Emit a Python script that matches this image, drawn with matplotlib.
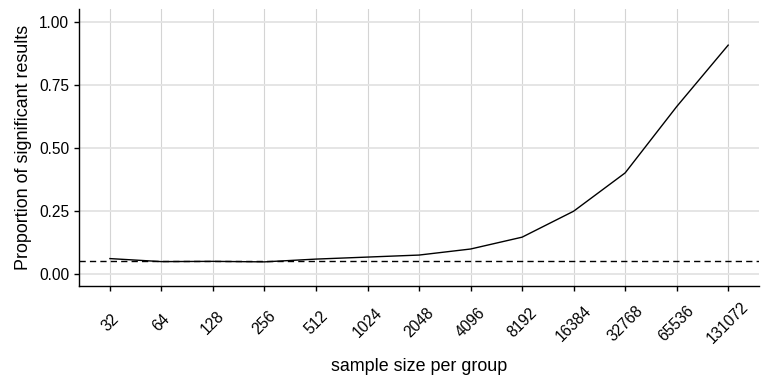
import matplotlib
matplotlib.use("Agg")
import matplotlib.pyplot as plt
import numpy as np

plt.rcParams['font.family'] = ['Liberation Sans', 'DejaVu Sans']

# sample sizes per group and proportion of significant results
sample_sizes = ["32", "64", "128", "256", "512", "1024", "2048", "4096",
                "8192", "16384", "32768", "65536", "131072"]
prop_significant = [0.060, 0.048, 0.049, 0.047, 0.058, 0.066, 0.074, 0.098,
                    0.145, 0.248, 0.400, 0.663, 0.907]
alpha_level = 0.05
y_ticks = [0.00, 0.25, 0.50, 0.75, 1.00]

fig = plt.figure(figsize=(7.68, 3.84), dpi=100)
ax = fig.add_axes([0.1029, 0.2544, 0.8855, 0.7219])

x = np.arange(1, len(sample_sizes) + 1)
ax.plot(x, prop_significant, color='black', lw=1.0, zorder=3)
ax.axhline(alpha_level, color='black', lw=1.0, ls=(0, (4.5, 3)), zorder=3)

ax.set_xlim(0.4, len(sample_sizes) + 0.6)
ax.set_ylim(-0.05, 1.05)
ax.set_xticks(x)
ax.set_xticklabels(sample_sizes, rotation=45, ha='center', va='center')
ax.set_yticks(y_ticks)
ax.set_yticklabels([f"{v:.2f}" for v in y_ticks])

# horizontal grid a bit wider and lighter than the vertical one
ax.grid(True, axis='y', color='#e3e3e3', lw=1.3, zorder=0)
ax.grid(True, axis='x', color='#d4d4d4', lw=0.8, zorder=0)
ax.set_axisbelow(True)
for s in ['top', 'right']:
    ax.spines[s].set_visible(False)
for s in ['left', 'bottom']:
    ax.spines[s].set_linewidth(1.0)
ax.tick_params(axis='both', length=3.5, width=1.0, labelsize=11.2, colors='black')
ax.tick_params(axis='x', pad=23)

ax.set_xlabel("sample size per group", fontsize=12.9, labelpad=8)
ax.set_ylabel("Proportion of significant results", fontsize=12.9, labelpad=5)

fig.savefig("out.png", dpi=100)
